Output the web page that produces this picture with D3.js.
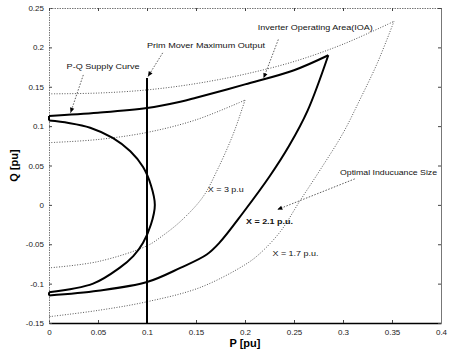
<!DOCTYPE html>
<html>
<head>
<meta charset="utf-8">
<script src="https://cdn.jsdelivr.net/npm/d3@7"></script>
<style>
  body { margin: 0; background: #fff; }
  text { font-family: "Liberation Sans", Arial, sans-serif; }
</style>
</head>
<body>
<svg id="chart"></svg>
<script>
// tick values
const pTicks = [0, 0.05, 0.1, 0.15, 0.2, 0.25, 0.3, 0.35, 0.4];
const qTicks = [-0.15, -0.1, -0.05, 0, 0.05, 0.1, 0.15, 0.2, 0.25];

// X = 1.7 p.u. (dotted, outer)
const x17Upper = [[0, 0.141], [0.05, 0.142], [0.1, 0.146], [0.15, 0.154], [0.2, 0.166], [0.25, 0.182], [0.3, 0.204], [0.352, 0.233]];
const x17Lower = [[0.352, 0.233], [0.335, 0.18], [0.317, 0.133], [0.3, 0.091], [0.277, 0.045], [0.256, 0.005], [0.236, -0.034], [0.215, -0.062], [0.2, -0.076], [0.154, -0.105], [0.1, -0.123], [0.05, -0.134], [0, -0.142]];

// X = 2.1 p.u. (thick)
const x21Upper = [[0, 0.113], [0.05, 0.117], [0.1, 0.123], [0.134, 0.131], [0.15, 0.136], [0.2, 0.153], [0.25, 0.171], [0.285, 0.19]];
const x21Lower = [[0.285, 0.19], [0.264, 0.12], [0.245, 0.075], [0.225, 0.036], [0.198, -0.01], [0.174, -0.048], [0.161, -0.063], [0.134, -0.08], [0.1, -0.098], [0.05, -0.109], [0, -0.115]];

// X = 3 p.u. (dotted, inner)
const x3Upper = [[0, 0.079], [0.05, 0.083], [0.1, 0.092], [0.15, 0.108], [0.2, 0.133]];
const x3Lower = [[0.2, 0.133], [0.188, 0.09], [0.172, 0.045], [0.157, 0.01], [0.135, -0.02], [0.115, -0.04], [0.1, -0.052], [0.05, -0.072], [0, -0.08]];

// P-Q supply curve
const supplyCurve = [[0, 0.107], [0.02, 0.104], [0.042, 0.098], [0.065, 0.085], [0.083, 0.068], [0.096, 0.048], [0.104, 0.025], [0.108, 0], [0.104, -0.025], [0.096, -0.048], [0.086, -0.065], [0.072, -0.08], [0.045, -0.1], [0, -0.111]];

// prime mover limit
const primeMoverP = 0.1;
const primeMoverQ = [-0.15, 0.161];

// annotations: label, text position [P, Q], arrow from/to
const notes = [
  { text: "Inverter Operating Area(IOA)", at: [0.213, 0.225], w: 115, from: [0.234, 0.21], to: [0.219, 0.161] },
  { text: "Prim Mover Maximum Output", at: [0.1, 0.202], w: 118, from: [0.116, 0.193], to: [0.101, 0.163] },
  { text: "P-Q Supply Curve", at: [0.018, 0.175], w: 73, from: [0.035, 0.165], to: [0.022, 0.117] },
  { text: "Optimal Inducuance Size", at: [0.297, 0.041], w: 97, from: [0.312, 0.033], to: [0.233, -0.006] }
];
const curveLabels = [
  { text: "X = 3 p.u", at: [0.162, 0.019], w: 36, bold: false },
  { text: "X = 2.1 p.u.", at: [0.201, -0.022], w: 47, bold: true },
  { text: "X = 1.7 p.u.", at: [0.228, -0.062], w: 46, bold: false }
];

const width = 452, height = 355;
const svg = d3.select("#chart").attr("width", width).attr("height", height);

const x = d3.scaleLinear().domain([0, 0.4]).range([49, 441]);
const y = d3.scaleLinear().domain([-0.15, 0.25]).range([323, 8]);
const fmt = d => String(+d.toFixed(2));

// axes, ticks inside like matlab
const gx = svg.append("g").attr("transform", `translate(0,${y(-0.15)})`)
  .call(d3.axisBottom(x).tickValues(pTicks).tickFormat(fmt).tickSizeInner(-3).tickSizeOuter(0).tickPadding(6));
const gy = svg.append("g").attr("transform", `translate(${x(0)},0)`)
  .call(d3.axisLeft(y).tickValues(qTicks).tickFormat(fmt).tickSizeInner(-3).tickSizeOuter(0).tickPadding(5));
const gt = svg.append("g").attr("transform", `translate(0,${y(0.25)})`)
  .call(d3.axisTop(x).tickValues(pTicks).tickFormat("").tickSizeInner(-3).tickSizeOuter(0));
const gr = svg.append("g").attr("transform", `translate(${x(0.4)},0)`)
  .call(d3.axisRight(y).tickValues(qTicks).tickFormat("").tickSizeInner(-3).tickSizeOuter(0));

[gx, gy, gt, gr].forEach(g => {
  g.selectAll("text").attr("font-size", 8).attr("fill", "#222");
  g.selectAll(".tick line").attr("stroke", "#444");
});
gx.select(".domain").attr("stroke", "#000").attr("stroke-width", 1.5);
gy.select(".domain").attr("stroke", "#777").attr("stroke-dasharray", "1.5,1");
gt.select(".domain").attr("stroke", "#777").attr("stroke-dasharray", "1.5,1");
gr.select(".domain").attr("stroke", "#777");

// axis titles
svg.append("text").attr("x", x(0.2)).attr("y", 347).attr("text-anchor", "middle")
  .attr("font-size", 11).attr("font-weight", "bold").text("P [pu]");
svg.append("text").attr("transform", `translate(18,${y(0.05)}) rotate(-90)`)
  .attr("text-anchor", "middle").attr("font-size", 11).attr("font-weight", "bold").text("Q [pu]");

const line = d3.line().x(d => x(d[0])).y(d => y(d[1]));
const smooth = d3.line().x(d => x(d[0])).y(d => y(d[1])).curve(d3.curveCatmullRom);

// dotted curves
[x17Upper, x17Lower, x3Upper, x3Lower].forEach(c => {
  svg.append("path").attr("d", smooth(c)).attr("fill", "none")
    .attr("stroke", "#555").attr("stroke-width", 1).attr("stroke-dasharray", "1,1.6");
});

// thick curves
[x21Upper, x21Lower].forEach(c => {
  svg.append("path").attr("d", smooth(c)).attr("fill", "none")
    .attr("stroke", "#000").attr("stroke-width", 2);
});
svg.append("path").attr("d", smooth(supplyCurve)).attr("fill", "none")
  .attr("stroke", "#000").attr("stroke-width", 2);

// join segments at P = 0
svg.append("path").attr("d", line([[0, supplyCurve[0][1]], x21Upper[0]]))
  .attr("stroke", "#000").attr("stroke-width", 2);
svg.append("path").attr("d", line([[0, supplyCurve[supplyCurve.length - 1][1]], x21Lower[x21Lower.length - 1]]))
  .attr("stroke", "#000").attr("stroke-width", 2);

// prime mover vertical
svg.append("line")
  .attr("x1", x(primeMoverP)).attr("x2", x(primeMoverP))
  .attr("y1", y(primeMoverQ[0])).attr("y2", y(primeMoverQ[1]))
  .attr("stroke", "#000").attr("stroke-width", 2);

// annotation arrows
function arrow(from, to) {
  const x1 = x(from[0]), y1 = y(from[1]), x2 = x(to[0]), y2 = y(to[1]);
  svg.append("line").attr("x1", x1).attr("y1", y1).attr("x2", x2).attr("y2", y2)
    .attr("stroke", "#333").attr("stroke-width", 0.8).attr("stroke-dasharray", "1.5,1.5");
  const a = Math.atan2(y2 - y1, x2 - x1);
  const s = 5, h = 2.2;
  const p1 = [x2 - s * Math.cos(a) + h * Math.sin(a), y2 - s * Math.sin(a) - h * Math.cos(a)];
  const p2 = [x2 - s * Math.cos(a) - h * Math.sin(a), y2 - s * Math.sin(a) + h * Math.cos(a)];
  svg.append("path").attr("d", `M${x2},${y2}L${p1}L${p2}Z`).attr("fill", "#000");
}

notes.forEach(n => {
  svg.append("text").attr("x", x(n.at[0])).attr("y", y(n.at[1]))
    .attr("dominant-baseline", "middle").attr("font-size", 8)
    .attr("textLength", n.w).attr("lengthAdjust", "spacingAndGlyphs")
    .attr("fill", "#111").text(n.text);
  arrow(n.from, n.to);
});

curveLabels.forEach(l => {
  svg.append("text").attr("x", x(l.at[0])).attr("y", y(l.at[1]))
    .attr("dominant-baseline", "middle").attr("font-size", 8)
    .attr("font-weight", l.bold ? "bold" : "normal")
    .attr("textLength", l.w).attr("lengthAdjust", "spacingAndGlyphs")
    .attr("fill", "#111").text(l.text);
});
</script>
</body>
</html>
